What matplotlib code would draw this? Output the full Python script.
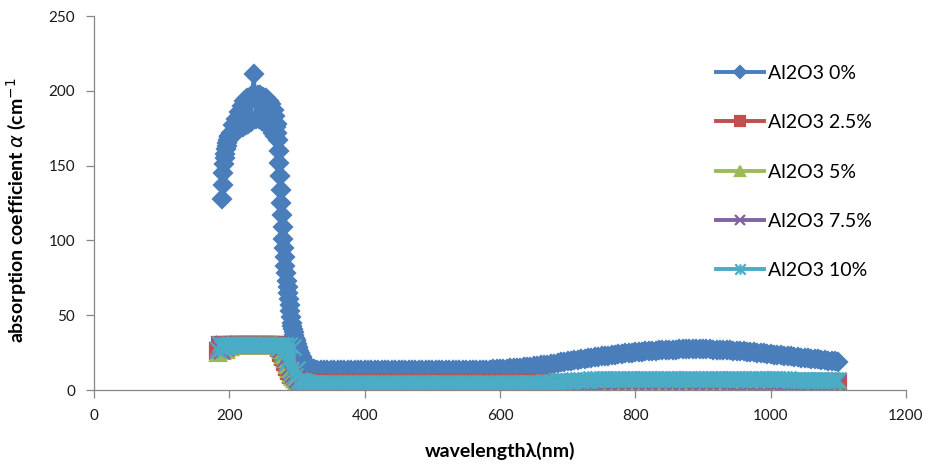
import numpy as np
import matplotlib.pyplot as plt
from matplotlib.path import Path

plt.rcParams['font.family'] = ['Lato', 'DejaVu Sans']

labels = ['Al2O3 0%', 'Al2O3 2.5%', 'Al2O3 5%', 'Al2O3 7.5%', 'Al2O3 10%']

# --- Al2O3 0 % (own wavelength grid: denser where the curve is steep) ---
wl0 = np.concatenate([np.arange(189, 201, 1), np.arange(202, 267, 2),
                      np.arange(267, 321, 1), np.arange(325, 1101, 5)])
al0 = [128, 137, 145, 151, 155, 158, 161, 163, 165, 167, 169, 170,
       # 202..266 step 2
       172, 170, 177, 172, 181, 173, 186, 175, 190, 176,
       193, 177, 195, 178, 196, 179, 197, 211, 197, 181,
       197, 181, 197, 180, 196, 179, 195, 177, 193, 175,
       191, 172, 187,
       # 267..320 step 1
       170, 183, 176, 178, 172, 167, 160, 152, 143, 134,
       125, 117, 109, 101, 95, 89, 83, 78, 73, 69,
       65, 61, 57, 53, 49, 45, 43, 41, 39, 37,
       35, 33.5, 32, 30.5, 29, 27.5, 26, 25, 24, 23,
       22, 21, 20, 19.2, 18.4, 17.7, 17, 16.4, 15.8, 15.3,
       14.9, 14.6, 14.3, 14.1,
       # 325..1100 step 5
       13.9, 13.7, 13.6, 13.6, 13.5, 13.5, 13.5, 13.4, 13.4, 13.4,
       13.4, 13.3, 13.3, 13.3, 13.3, 13.3, 13.2, 13.2, 13.2, 13.2,
       13.2, 13.2, 13.2, 13.2, 13.2, 13.2, 13.2, 13.2, 13.2, 13.2,
       13.2, 13.2, 13.2, 13.2, 13.2, 13.2, 13.3, 13.3, 13.3, 13.3,
       13.3, 13.3, 13.4, 13.4, 13.4, 13.4, 13.5, 13.5, 13.5, 13.6,
       13.6, 13.7, 13.7, 13.8, 13.9, 14.0, 14.1, 14.2, 14.4, 14.5,
       14.7, 14.9, 15.1, 15.3, 15.6, 15.8, 16.1, 16.4, 16.7, 17.0,
       17.3, 17.7, 18.0, 18.4, 18.7, 19.1, 19.4, 19.8, 20.1, 20.5,
       20.8, 21.2, 21.5, 21.8, 22.1, 22.4, 22.7, 23.0, 23.3, 23.6,
       23.9, 24.2, 24.4, 24.7, 24.9, 25.2, 25.4, 25.6, 25.8, 26.0,
       26.2, 26.3, 26.5, 26.6, 26.7, 26.8, 26.9, 27.0, 27.1, 27.1,
       27.2, 27.2, 27.2, 27.2, 27.2, 27.2, 27.1, 27.1, 27.0, 27.0,
       26.9, 26.8, 26.6, 26.5, 26.3, 26.2, 26.0, 25.8, 25.6, 25.4,
       25.1, 24.9, 24.6, 24.4, 24.1, 23.9, 23.6, 23.4, 23.1, 22.9,
       22.6, 22.4, 22.1, 21.9, 21.6, 21.4, 21.1, 20.9, 20.6, 20.4,
       20.1, 19.9, 19.6, 19.4, 19.1, 18.9]

# --- doped samples: 3 nm steps up to 330 nm, then 10 nm ---
wl_dop = np.concatenate([np.arange(183, 331, 3), np.arange(340, 1101, 10)])
al25 = [26, 30, 27, 30, 28, 30, 29, 30, 30, 30,
        30, 30, 30, 30, 30, 30, 30, 30, 30, 30,
        30, 30, 30, 30, 30, 30, 30, 30, 30, 30,
        28, 25, 22, 19, 15.5, 12.5, 10, 8.5, 7.5, 6.8,
        6.3, 5.8, 5.5, 5.2, 5.0, 4.8, 4.7, 4.6, 4.5, 4.5,
        # 340..1100 step 10
        4.5, 4.5, 4.5, 4.5, 4.5, 4.4, 4.5, 4.5, 4.5, 4.4,
        4.5, 4.5, 4.5, 4.5, 4.4, 4.5, 4.5, 4.5, 4.5, 4.5,
        4.4, 4.5, 4.5, 4.5, 4.5, 4.5, 4.5, 4.5, 4.6, 4.6,
        4.6, 4.7, 4.7, 4.7, 4.8, 4.8, 4.8, 4.9, 4.9, 4.9,
        5.0, 5.0, 5.0, 5.0, 5.1, 5.1, 5.1, 5.1, 5.1, 5.2,
        5.2, 5.2, 5.2, 5.2, 5.2, 5.2, 5.2, 5.2, 5.2, 5.2,
        5.2, 5.2, 5.2, 5.3, 5.3, 5.3, 5.3, 5.3, 5.3, 5.3,
        5.4, 5.4, 5.4, 5.4, 5.5, 5.5, 5.5]
al5 = [25, 29, 26, 30, 27, 30, 29, 30, 30, 30,
       30, 30, 30, 30, 30, 30, 30, 30, 30, 30,
       30, 30, 30, 30, 30, 30, 30, 30, 30, 30,
       29, 26.5, 23.5, 20.5, 17, 14, 11, 9, 7.5, 6.3,
       5.5, 4.8, 4.3, 4.0, 3.8, 3.6, 3.5, 3.4, 3.4, 3.3,
       3.3, 3.3, 3.3, 3.3, 3.2, 3.3, 3.3, 3.3, 3.2, 3.3,
       3.3, 3.3, 3.3, 3.2, 3.3, 3.3, 3.3, 3.3, 3.3, 3.2,
       3.3, 3.3, 3.3, 3.3, 3.3, 3.3, 3.3, 3.3, 3.3, 3.3,
       3.3, 3.3, 3.4, 3.4, 3.4, 3.4, 3.4, 3.4, 3.5, 3.5,
       3.5, 3.5, 3.5, 3.5, 3.5, 3.5, 3.6, 3.6, 3.6, 3.6,
       3.6, 3.6, 3.6, 3.6, 3.6, 3.6, 3.6, 3.6, 3.6, 3.6,
       3.5, 3.5, 3.5, 3.5, 3.5, 3.5, 3.5, 3.5, 3.5, 3.4,
       3.4, 3.4, 3.4, 3.4, 3.4, 3.4, 3.4]
al75 = [27, 30, 26, 31, 28, 30, 29.5, 30, 30, 30,
        30, 30, 30, 30, 30, 30, 30, 30, 30, 30,
        30, 30, 30, 30, 30, 30, 30, 30, 30, 30,
        29, 27, 24, 21, 18, 15, 12, 10, 8.5, 7,
        6, 5.3, 4.8, 4.5, 4.3, 4.2, 4.1, 4.0, 4.0, 4.0,
        4.0, 4.0, 4.0, 4.0, 3.9, 4.0, 4.0, 4.0, 4.0, 3.9,
        4.0, 4.0, 4.0, 4.0, 4.0, 3.9, 4.0, 4.0, 4.0, 4.0,
        4.0, 4.0, 4.0, 4.0, 4.0, 4.0, 4.0, 4.0, 4.0, 4.1,
        4.1, 4.1, 4.1, 4.2, 4.2, 4.2, 4.2, 4.3, 4.3, 4.3,
        4.3, 4.3, 4.4, 4.4, 4.4, 4.4, 4.4, 4.4, 4.4, 4.4,
        4.4, 4.4, 4.4, 4.4, 4.4, 4.4, 4.4, 4.4, 4.4, 4.4,
        4.3, 4.3, 4.3, 4.3, 4.3, 4.2, 4.2, 4.2, 4.2, 4.1,
        4.1, 4.1, 4.1, 4.0, 4.0, 4.0, 4.0]

# --- Al2O3 10 %: 3 nm steps up to 330 nm, then 5 nm ---
wl10 = np.concatenate([np.arange(183, 331, 3), np.arange(335, 1101, 5)])
al10 = [27, 31, 28, 30, 29, 30, 30, 30, 30, 30,
        30, 30, 30, 30, 30, 30, 30, 30, 30, 30,
        30, 30, 30, 30, 30, 30, 30, 30, 30, 30,
        29, 30, 25, 30, 19, 30, 13.5, 29, 9.5, 14,
        7, 6.2, 5.8, 5.5, 5.2, 5.0, 4.8, 4.7, 4.6, 4.5,
        # 335..1100 step 5
        4.5, 4.5, 4.5, 4.5, 4.5, 4.5, 4.5, 4.5, 4.5, 4.5,
        4.5, 4.5, 4.4, 4.4, 4.5, 4.5, 4.5, 4.4, 4.4, 4.5,
        4.5, 4.5, 4.4, 4.5, 4.5, 4.5, 4.4, 4.5, 4.5, 4.5,
        4.5, 4.5, 4.5, 4.4, 4.5, 4.5, 4.5, 4.5, 4.5, 4.5,
        4.5, 4.5, 4.5, 4.5, 4.5, 4.5, 4.5, 4.6, 4.6, 4.6,
        4.6, 4.6, 4.6, 4.6, 4.6, 4.6, 4.6, 4.7, 4.7, 4.7,
        4.7, 4.7, 4.8, 4.8, 4.9, 5.0, 5.1, 5.2, 5.4, 5.5,
        5.7, 5.8, 6.0, 6.2, 6.3, 6.5, 6.6, 6.8, 6.9, 7.0,
        7.1, 7.2, 7.3, 7.3, 7.4, 7.4, 7.5, 7.5, 7.5, 7.5,
        7.5, 7.6, 7.6, 7.6, 7.6, 7.6, 7.6, 7.6, 7.6, 7.6,
        7.6, 7.6, 7.6, 7.6, 7.6, 7.6, 7.6, 7.6, 7.6, 7.6,
        7.6, 7.6, 7.6, 7.6, 7.6, 7.6, 7.6, 7.6, 7.6, 7.5,
        7.5, 7.5, 7.5, 7.5, 7.5, 7.5, 7.4, 7.4, 7.4, 7.4,
        7.3, 7.3, 7.3, 7.2, 7.2, 7.2, 7.1, 7.1, 7.1, 7.0,
        7.0, 7.0, 6.9, 6.9, 6.9, 6.8, 6.8, 6.8, 6.7, 6.7,
        6.7, 6.6, 6.6, 6.6]

# Excel style star: an X with a vertical bar
star = Path([(0, -1), (0, 1), (-1, -1), (1, 1), (-1, 1), (1, -1)],
            [Path.MOVETO, Path.LINETO, Path.MOVETO, Path.LINETO, Path.MOVETO, Path.LINETO])

xs = [wl0, wl_dop, wl_dop, wl_dop, wl10]
ys = [al0, al25, al5, al75, al10]
colors = ['#4A7EBB', '#C0504D', '#9BBB59', '#8064A2', '#4BACC6']
markers = ['D', 's', '^', 'x', star]
sizes = [9.6, 11, 11, 11, 11.5]

fig = plt.figure(figsize=(9.35, 4.69), dpi=100)
ax = fig.add_axes([94 / 935, 1 - 390 / 469, 812 / 935, 374 / 469])

for x, y, lab, c, m, s in zip(xs, ys, labels, colors, markers, sizes):
    ax.plot(x, y, color=c, marker=m, markersize=s, markeredgecolor=c,
            markerfacecolor=c, markeredgewidth=1.6, lw=2.8, label=lab)

ax.set_xlim(0, 1200)
ax.set_ylim(0, 250)
ax.set_xticks(range(0, 1201, 200))
ax.set_yticks(range(0, 251, 50))
for side in ['top', 'right']:
    ax.spines[side].set_visible(False)
for side in ['left', 'bottom']:
    ax.spines[side].set_color('#868686')
    ax.spines[side].set_linewidth(0.9)
ax.tick_params(axis='both', direction='out', length=5.5, width=0.9, color='#868686',
               labelsize=11, labelcolor='#1a1a1a')
ax.tick_params(axis='y', pad=8)
ax.tick_params(axis='x', pad=8.5)

ax.set_xlabel('wavelength\u03bb(nm)', fontsize=14, fontweight='bold')
ax.set_ylabel(r'absorption coefficient $\alpha$ (cm$^{-1}$', fontsize=14, fontweight='bold')
ax.xaxis.set_label_coords(0.5, -0.14)
ax.yaxis.set_label_coords(-0.081, 0.481)

ax.legend(loc='upper left', bbox_to_anchor=(716 / 935, 1 - 65 / 469),
          bbox_transform=fig.transFigure, frameon=False, fontsize=14,
          markerscale=0.65, handlelength=2.45, handletextpad=0.25,
          labelspacing=1.66, borderpad=0, borderaxespad=0)

fig.savefig('out.png', dpi=100)
